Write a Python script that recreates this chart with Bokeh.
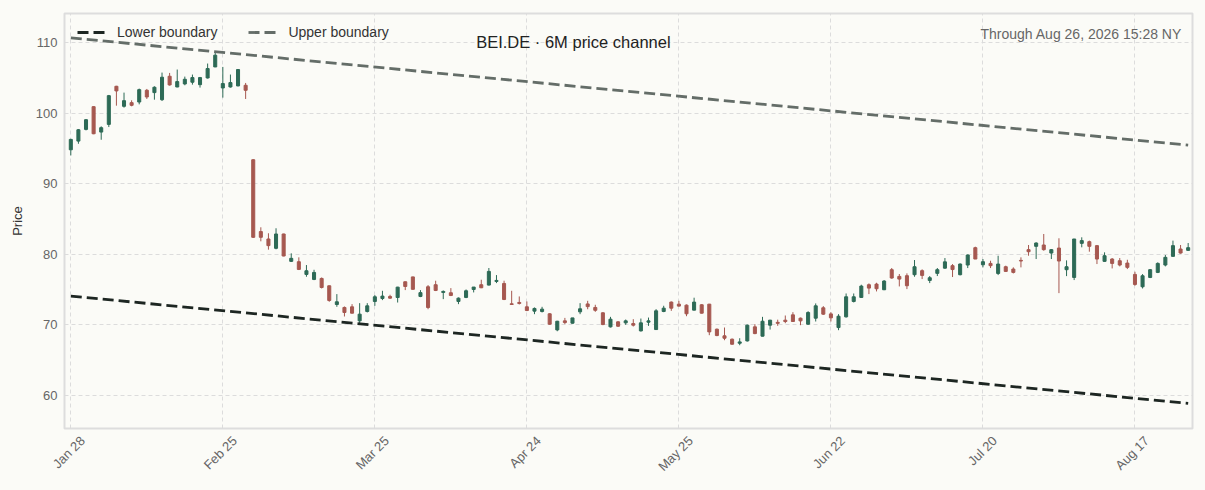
from math import pi
import pandas as pd
from bokeh.plotting import figure
from bokeh.models import (ColumnDataSource, FixedTicker, Label, Legend, LegendItem,
                          GlobalInlineStyleSheet, CustomJSTickFormatter)
from bokeh.embed import file_html
from bokeh.resources import INLINE

# ---------------- data ----------------
holidays = ["2026-04-03", "2026-04-06", "2026-05-01"]
dates = pd.bdate_range("2026-01-28", "2026-08-26", freq="C", holidays=holidays)

opens = [94.79, 96.02, 97.68, 100.90, 97.30, 98.39, 103.79, 100.95, 101.47, 101.56,
         103.22, 102.89, 101.89, 105.21, 103.69, 104.12, 104.36, 104.02, 104.97, 106.53,
         103.55, 103.69, 103.84, 103.93, 93.38, 83.20, 82.15, 80.83, 82.86, 78.98,
         78.93, 77.13, 76.42, 76.56, 75.52, 72.87, 72.45, 72.54, 70.55, 71.88,
         73.30, 73.72, 74.01, 73.86, 76.09, 76.78, 74.01, 75.38, 75.67, 74.58,
         74.53, 73.30, 73.87, 75.00, 75.67, 75.62, 76.14, 75.85, 72.97, 73.16,
         72.54, 71.93, 71.88, 71.55, 69.27, 70.55, 70.22, 71.83, 72.95, 72.45,
         71.69, 69.70, 70.41, 70.27, 70.17, 69.13, 70.36, 69.32, 71.88, 73.21,
         72.92, 72.78, 72.07, 72.83, 72.92, 69.37, 68.43, 67.95, 67.38, 67.71,
         69.70, 68.38, 69.94, 70.34, 70.65, 71.40, 70.93, 70.08, 70.93, 72.40,
         71.54, 69.60, 71.12, 73.30, 73.87, 75.67, 75.76, 74.96, 77.80, 76.85,
         76.95, 77.09, 77.66, 76.28, 77.28, 78.02, 78.37, 77.09, 78.46, 80.92,
         78.50, 78.69, 77.27, 78.22, 77.89, 79.12, 80.64, 81.11, 81.30, 80.16,
         80.87, 77.80, 76.70, 81.53, 81.77, 81.21, 78.98, 79.31, 79.07, 78.74,
         77.13, 75.38, 76.70, 77.42, 78.46, 79.69, 80.73, 80.54]
highs = [96.35, 97.73, 99.15, 100.95, 98.11, 102.56, 103.85, 102.89, 101.80, 103.46,
         103.41, 103.79, 105.73, 105.68, 106.16, 105.16, 105.45, 105.11, 107.01, 108.66,
         106.53, 105.45, 106.20, 104.26, 93.45, 83.81, 82.96, 83.67, 82.90, 80.12,
         79.55, 78.46, 77.79, 76.70, 75.55, 74.34, 72.59, 72.92, 73.06, 73.06,
         74.20, 74.81, 74.25, 75.37, 76.12, 76.80, 74.91, 75.62, 76.24, 74.86,
         75.19, 73.87, 75.00, 75.34, 76.38, 78.04, 77.04, 76.24, 74.81, 74.01,
         73.30, 72.45, 72.54, 71.64, 70.55, 70.97, 70.97, 73.06, 73.39, 72.83,
         71.78, 71.12, 70.50, 70.74, 70.79, 70.88, 71.02, 72.21, 72.69, 73.30,
         73.39, 72.88, 73.83, 72.92, 72.95, 69.46, 69.61, 68.05, 68.09, 70.03,
         70.08, 71.12, 70.69, 70.72, 71.31, 71.78, 71.02, 71.92, 73.02, 72.64,
         71.78, 71.50, 74.43, 74.43, 75.67, 75.86, 75.95, 76.33, 78.04, 77.19,
         77.28, 79.17, 77.85, 76.90, 78.04, 79.45, 78.60, 78.69, 79.97, 81.06,
         79.31, 79.07, 79.78, 78.37, 78.13, 79.55, 81.30, 81.68, 82.86, 80.73,
         82.25, 79.12, 82.15, 82.39, 81.92, 81.30, 80.26, 79.45, 79.45, 79.21,
         77.51, 77.18, 77.89, 78.84, 79.88, 81.92, 81.30, 81.58]
lows = [93.99, 95.64, 97.54, 97.00, 96.21, 98.01, 101.04, 100.76, 100.95, 101.23,
        101.99, 101.89, 101.70, 103.88, 103.65, 103.93, 104.02, 103.60, 104.88, 106.50,
        102.18, 103.60, 103.79, 101.99, 82.30, 81.82, 80.64, 80.69, 79.70, 78.89,
        77.75, 76.80, 76.32, 75.14, 73.25, 72.54, 71.17, 71.59, 70.07, 71.74,
        72.68, 73.49, 73.68, 73.15, 74.91, 74.99, 73.91, 72.20, 74.77, 73.63,
        74.06, 72.92, 73.77, 74.58, 75.19, 75.57, 75.90, 73.49, 72.87, 72.87,
        71.93, 71.50, 71.74, 69.99, 69.08, 70.08, 70.17, 71.50, 72.20, 71.83,
        69.94, 69.61, 69.70, 69.99, 69.75, 69.04, 69.84, 69.30, 71.78, 71.97,
        72.59, 71.21, 72.05, 71.59, 68.52, 68.38, 67.81, 67.19, 67.10, 67.62,
        68.66, 68.35, 69.32, 69.85, 70.22, 70.41, 69.94, 69.98, 70.46, 71.40,
        70.46, 69.23, 71.02, 73.16, 73.82, 74.34, 74.72, 74.91, 76.52, 75.43,
        75.05, 76.80, 76.47, 75.90, 76.90, 77.94, 76.76, 77.00, 78.03, 79.31,
        78.13, 78.03, 77.04, 77.51, 77.27, 78.13, 79.78, 79.31, 80.49, 79.31,
        74.48, 76.89, 76.33, 80.97, 80.35, 78.60, 78.93, 77.98, 78.27, 77.89,
        75.52, 75.14, 76.61, 77.32, 78.27, 79.65, 80.07, 80.49]
closes = [96.26, 97.63, 99.05, 97.06, 97.92, 102.46, 103.13, 101.75, 101.09, 103.31,
          102.27, 103.65, 105.07, 103.98, 104.45, 104.78, 105.02, 105.02, 106.30, 108.19,
          104.17, 104.31, 106.16, 103.22, 82.39, 82.39, 81.21, 82.86, 79.74, 79.41,
          77.84, 77.65, 77.41, 75.28, 73.44, 73.25, 71.74, 71.64, 71.50, 72.68,
          73.96, 74.06, 73.77, 75.33, 75.42, 75.02, 74.55, 72.44, 74.86, 74.72,
          74.15, 73.77, 74.81, 75.34, 75.24, 77.56, 76.28, 73.58, 72.87, 73.02,
          72.02, 72.31, 72.21, 70.08, 70.50, 70.31, 70.97, 72.26, 72.57, 72.05,
          70.03, 70.79, 69.79, 70.55, 69.94, 70.27, 70.55, 71.97, 72.35, 72.35,
          72.64, 71.55, 73.21, 71.64, 68.99, 68.47, 68.09, 67.24, 67.57, 69.94,
          68.75, 70.50, 70.65, 70.20, 70.46, 70.46, 70.55, 71.73, 72.68, 71.50,
          70.98, 71.21, 73.96, 73.96, 75.48, 75.19, 75.10, 76.19, 76.62, 76.47,
          75.53, 78.22, 76.99, 76.66, 77.80, 78.91, 77.82, 78.60, 79.88, 79.31,
          78.93, 78.37, 78.60, 77.56, 77.42, 79.03, 80.35, 81.58, 80.64, 80.64,
          79.03, 78.22, 82.15, 81.92, 81.11, 79.31, 79.78, 78.69, 78.46, 78.13,
          75.71, 76.94, 77.80, 78.69, 79.55, 81.21, 80.16, 80.92]

tick_every = 20
y_ticks = [60, 70, 80, 90, 100, 110]
lower_boundary = [74.06, 58.86]   # value at first and last session
upper_boundary = [110.65, 95.45]
series_names = ["Lower boundary", "Upper boundary"]
title_text = "BEI.DE \u00b7 6M price channel"
note_text = "Through Aug 26, 2026 15:28 NY"

# ---------------- styling ----------------
BG = "#fbfbf7"
UP = "#2d6a56"
DOWN = "#a65850"
LOWER_C = "#1d2622"
UPPER_C = "#646d68"
GRID_C = "#dcdcdc"
Y_LO, Y_HI = 55.3, 114.1
X_LO, X_HI = -0.83, 147.57
LABEL_SHIFT = 1.55   # sessions: moves the rotated date labels so they sit centred on the grid line

n = len(opens)
idx = list(range(n))
colors = [UP if c >= o else DOWN for o, c in zip(opens, closes)]
src = ColumnDataSource(dict(
    x=idx, open=opens, high=highs, low=lows, close=closes,
    top=[max(o, c) for o, c in zip(opens, closes)],
    bottom=[min(o, c) for o, c in zip(opens, closes)],
    color=colors,
))

p = figure(width=1197, height=482, x_range=(X_LO, X_HI), y_range=(Y_LO, Y_HI),
           output_backend="svg", toolbar_location=None,
           min_border_left=64, min_border_right=5, min_border_top=13, min_border_bottom=54)
p.background_fill_color = BG
p.border_fill_color = BG
p.outline_line_color = "#dddddd"
p.outline_line_width = 2

p.segment(x0="x", y0="high", x1="x", y1="low", color="color", line_width=1, source=src)
p.vbar(x="x", width=0.4, top="top", bottom="bottom", fill_color="color",
       line_color="color", line_width=1, source=src)

ends_x = [0, n - 1]
r_low = p.line(ends_x, lower_boundary, line_color=LOWER_C, line_width=2.8, line_dash="11 5")
r_up = p.line(ends_x, upper_boundary, line_color=UPPER_C, line_width=2.8, line_dash="11 5")

legend = Legend(items=[LegendItem(label=series_names[0], renderers=[r_low]),
                       LegendItem(label=series_names[1], renderers=[r_up])],
                location=(8, 381), orientation="horizontal",
                background_fill_alpha=0, border_line_alpha=0,
                label_text_font_size="14px", label_text_color="#333333",
                glyph_width=30, label_standoff=10, spacing=31, padding=5, margin=0)
p.add_layout(legend)

# x axis: a date label every 20 sessions
tick_idx = list(range(0, n, tick_every))
tick_labels = [f"{dates[i]:%b} {dates[i].day}" for i in tick_idx]
p.xgrid.ticker = FixedTicker(ticks=tick_idx)
p.xaxis.ticker = FixedTicker(ticks=[t + LABEL_SHIFT for t in tick_idx])
p.xaxis.formatter = CustomJSTickFormatter(
    args=dict(labels=tick_labels, step=tick_every, shift=LABEL_SHIFT),
    code="const k = Math.round((tick - shift) / step); return labels[k] || '';")
p.xaxis.major_label_orientation = pi / 4
p.xaxis.major_label_standoff = 10

p.yaxis.ticker = FixedTicker(ticks=y_ticks)
p.yaxis.axis_label = "Price"
p.yaxis.axis_label_text_font_style = "normal"
p.yaxis.axis_label_text_font_size = "13px"
p.yaxis.axis_label_text_color = "#333333"
p.yaxis.axis_label_standoff = 8
p.yaxis.major_label_standoff = 7
for ax in (p.xaxis, p.yaxis):
    ax.axis_line_color = None
    ax.major_tick_line_color = None
    ax.minor_tick_line_color = None
    ax.major_tick_out = 0
    ax.major_tick_in = 0
    ax.major_label_text_color = "#666666"
    ax.major_label_text_font_size = "13px"

for g in (p.xgrid, p.ygrid):
    g.grid_line_color = GRID_C
    g.grid_line_dash = "4 3"
    g.grid_line_width = 1

p.add_layout(Label(x=66.12, y=110.0, text=title_text, text_align="center",
                   text_baseline="middle", text_font_size="16.5px", text_color="#222222"))
p.add_layout(Label(x=146.2, y=111.2, text=note_text, text_align="right",
                   text_baseline="middle", text_font_size="14px", text_color="#666666"))

p.stylesheets = [GlobalInlineStyleSheet(css=f"body {{ background: {BG}; }}")]

open("out.html", "w").write(file_html(p, INLINE))
